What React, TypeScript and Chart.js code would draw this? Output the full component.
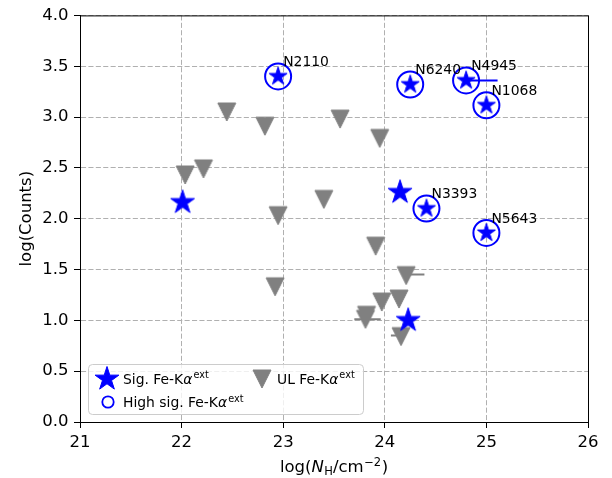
import { useEffect, useRef } from 'react';
import { Chart, registerables } from 'chart.js';

Chart.register(...registerables);

const FONT = 'DejaVu Sans';
const BLUE = '#0000ff';
const GREY = '#808080';

// Significant extended Fe-Kα detections (plain stars)
const sigNH = [22.01, 24.15, 24.23];
const sigCounts = [2.16, 2.26, 1.0];

// Highly significant detections (star inside a ring), labelled by galaxy
const highNames = ['N2110', 'N6240', 'N4945', 'N1068', 'N3393', 'N5643'];
const highNH = [22.95, 24.25, 24.8, 25.0, 24.41, 25.0];
const highCounts = [3.4, 3.32, 3.36, 3.115, 2.1, 1.86];

// Upper limits on extended Fe-Kα
const ulNH = [22.445, 22.82, 23.56, 23.95, 22.035, 22.215, 23.4, 22.95, 23.91, 24.21, 22.92, 23.97, 24.14, 23.82, 23.81, 24.16];
const ulCounts = [3.05, 2.91, 2.98, 2.79, 2.43, 2.49, 2.19, 2.03, 1.73, 1.44, 1.33, 1.18, 1.21, 1.05, 1.01, 0.84];

// N_H ranges drawn as horizontal bars
const ulRangeLo = [24.21, 23.7, 24.06];
const ulRangeHi = [24.39, 23.96, 24.16];
const ulRangeCounts = [1.45, 1.01, 0.85];
const n4945RangeLo = 24.8;
const n4945RangeHi = 25.11;
const n4945RangeCounts = 3.36;

// Axis ticks
const xTickValues = [21, 22, 23, 24, 25, 26];
const xTickLabels = ['21', '22', '23', '24', '25', '26'];
const yTickValues = [0, 0.5, 1, 1.5, 2, 2.5, 3, 3.5, 4];
const yTickLabels = ['0.0', '0.5', '1.0', '1.5', '2.0', '2.5', '3.0', '3.5', '4.0'];

type Run = { text: string; size: number; italic?: boolean; rise?: number; gap?: number };

const fontOf = (r: Run) => `${r.italic ? 'italic ' : ''}${r.size}px "${FONT}"`;

function richWidth(ctx: CanvasRenderingContext2D, runs: Run[]) {
  let w = 0;
  for (const r of runs) {
    ctx.font = fontOf(r);
    w += (r.gap || 0) + ctx.measureText(r.text).width;
  }
  return w;
}

function drawRich(ctx: CanvasRenderingContext2D, runs: Run[], x: number, y: number) {
  ctx.textAlign = 'left';
  ctx.textBaseline = 'alphabetic';
  for (const r of runs) {
    x += r.gap || 0;
    ctx.font = fontOf(r);
    ctx.fillText(r.text, x, y - (r.rise || 0));
    x += ctx.measureText(r.text).width;
  }
}

function starPath(ctx: CanvasRenderingContext2D, cx: number, cy: number, R: number) {
  const r = R * 0.381966;
  ctx.beginPath();
  for (let i = 0; i < 10; i++) {
    const a = -Math.PI / 2 + (i * Math.PI) / 5;
    const rad = i % 2 === 0 ? R : r;
    const px = cx + rad * Math.cos(a);
    const py = cy + rad * Math.sin(a);
    if (i === 0) ctx.moveTo(px, py);
    else ctx.lineTo(px, py);
  }
  ctx.closePath();
}

function markerCanvas(size: number, draw: (ctx: CanvasRenderingContext2D, c: number) => void) {
  const cv = document.createElement('canvas');
  cv.width = size;
  cv.height = size;
  const ctx = cv.getContext('2d')!;
  draw(ctx, size / 2);
  return cv;
}

function makeStar(size: number, R: number) {
  return markerCanvas(size, (ctx, c) => {
    starPath(ctx, c, c, R);
    ctx.fillStyle = BLUE;
    ctx.fill();
    ctx.strokeStyle = BLUE;
    ctx.lineWidth = 1;
    ctx.lineJoin = 'round';
    ctx.stroke();
  });
}

function makeTriangleDown(size: number, h: number) {
  return markerCanvas(size, (ctx, c) => {
    ctx.beginPath();
    ctx.moveTo(c - h, c - h);
    ctx.lineTo(c + h, c - h);
    ctx.lineTo(c, c + h);
    ctx.closePath();
    ctx.fillStyle = GREY;
    ctx.fill();
    ctx.strokeStyle = GREY;
    ctx.lineWidth = 1;
    ctx.stroke();
  });
}

const sup = (t: string): Run => ({ text: t, size: 9.7, rise: 5.5, gap: 1 });

export default function App() {
  const ref = useRef<HTMLCanvasElement>(null);

  useEffect(() => {
    const canvas = ref.current!;
    const bigStar = makeStar(30, 12.5);
    const smallStar = makeStar(24, 9.5);
    const triDown = makeTriangleDown(22, 9);

    const rangeSets = ulRangeCounts.map((c, i) => ({
      data: [
        { x: ulRangeLo[i], y: c },
        { x: ulRangeHi[i], y: c },
      ],
      showLine: true,
      borderColor: GREY,
      borderWidth: 2,
      pointRadius: 0,
      order: 4,
    }));

    const overlay = {
      id: 'overlay',
      afterDatasetsDraw(chart: any) {
        const { ctx, chartArea: a, scales } = chart;
        const xs = scales.x;
        const ys = scales.y;

        // source labels
        ctx.save();
        ctx.fillStyle = '#000';
        ctx.font = `13.9px "${FONT}"`;
        ctx.textAlign = 'left';
        ctx.textBaseline = 'alphabetic';
        highNames.forEach((name, i) => {
          ctx.fillText(name, xs.getPixelForValue(highNH[i] + 0.05), ys.getPixelForValue(highCounts[i] + 0.1));
        });
        ctx.restore();

        // axes frame
        ctx.save();
        ctx.strokeStyle = '#000';
        ctx.lineWidth = 1;
        ctx.strokeRect(a.left + 0.5, a.top + 0.5, a.right - a.left, a.bottom - a.top);
        ctx.restore();

        // legend
        ctx.save();
        const lx = 88.5, ly = 364.5, lw = 275, lh = 50;
        ctx.beginPath();
        ctx.roundRect(lx, ly, lw, lh, 4);
        ctx.fillStyle = 'rgba(255,255,255,0.8)';
        ctx.fill();
        ctx.strokeStyle = '#cccccc';
        ctx.lineWidth = 1;
        ctx.stroke();

        ctx.drawImage(bigStar, 107 - 15, 379 - 15);
        ctx.drawImage(triDown, 262 - 11, 379 - 11);
        ctx.beginPath();
        ctx.arc(108, 402, 5.7, 0, Math.PI * 2);
        ctx.strokeStyle = BLUE;
        ctx.lineWidth = 1.8;
        ctx.stroke();

        ctx.fillStyle = '#000';
        drawRich(ctx, [{ text: 'Sig. Fe-K', size: 13.9 }, { text: 'α', size: 13.9, italic: true }, sup('ext')], 123, 383.5);
        drawRich(ctx, [{ text: 'UL Fe-K', size: 13.9 }, { text: 'α', size: 13.9, italic: true }, sup('ext')], 277, 383.5);
        drawRich(ctx, [{ text: 'High sig. Fe-K', size: 13.9 }, { text: 'α', size: 13.9, italic: true }, sup('ext')], 123, 407);
        ctx.restore();

        // axis titles
        ctx.save();
        ctx.fillStyle = '#000';
        const xt: Run[] = [
          { text: 'log(', size: 16.5 },
          { text: 'N', size: 16.5, italic: true },
          { text: 'H', size: 11.5, rise: -2.5, gap: 0.5 },
          { text: '/cm', size: 16.5 },
          { text: '\u22122', size: 11.5, rise: 6.5, gap: 0.5 },
          { text: ')', size: 16.5, gap: 0.5 },
        ];
        const w = richWidth(ctx, xt);
        drawRich(ctx, xt, (a.left + a.right) / 2 - w / 2, 472);

        ctx.translate(31, (a.top + a.bottom) / 2);
        ctx.rotate(-Math.PI / 2);
        ctx.font = `16.5px "${FONT}"`;
        ctx.textAlign = 'center';
        ctx.textBaseline = 'alphabetic';
        ctx.fillText('log(Counts)', 0, 0);
        ctx.restore();
      },
    };

    const chart = new Chart(canvas, {
      type: 'scatter',
      data: {
        datasets: [
          {
            data: highNH.map((x, i) => ({ x, y: highCounts[i] })),
            pointStyle: smallStar,
            pointRadius: 10,
            order: 0,
          },
          {
            data: sigNH.map((x, i) => ({ x, y: sigCounts[i] })),
            pointStyle: bigStar,
            pointRadius: 12,
            order: 1,
          },
          {
            data: highNH.map((x, i) => ({ x, y: highCounts[i] })),
            pointStyle: 'circle',
            pointRadius: 13,
            borderColor: BLUE,
            borderWidth: 2,
            backgroundColor: 'rgba(0,0,0,0)',
            order: 2,
          },
          {
            data: [
              { x: n4945RangeLo, y: n4945RangeCounts },
              { x: n4945RangeHi, y: n4945RangeCounts },
            ],
            showLine: true,
            borderColor: BLUE,
            borderWidth: 2,
            pointRadius: 0,
            order: 3,
          },
          ...rangeSets,
          {
            data: ulNH.map((x, i) => ({ x, y: ulCounts[i] })),
            pointStyle: triDown,
            pointRadius: 9,
            order: 5,
          },
        ] as any,
      },
      options: {
        animation: false,
        responsive: false,
        events: [],
        layout: { padding: { top: 12, right: 24, left: 0, bottom: 0 } },
        plugins: { legend: { display: false }, tooltip: { enabled: false } },
        scales: {
          x: {
            type: 'linear',
            min: 21,
            max: 26,
            afterBuildTicks: (axis: any) => {
              axis.ticks = xTickValues.map((value) => ({ value }));
            },
            afterFit: (axis: any) => {
              axis.height = 56;
            },
            ticks: {
              callback: (_v: any, i: number) => xTickLabels[i],
              font: { family: FONT, size: 16.5 },
              color: '#000',
              padding: 5,
              maxRotation: 0,
            },
            grid: { color: '#b0b0b0', lineWidth: 1, tickLength: 6, tickColor: '#000', tickWidth: 1 },
            border: { color: '#000', width: 1, dash: [5.1, 2.3] },
          },
          y: {
            type: 'linear',
            min: 0,
            max: 4,
            afterBuildTicks: (axis: any) => {
              axis.ticks = yTickValues.map((value) => ({ value }));
            },
            afterFit: (axis: any) => {
              axis.width = 80;
            },
            ticks: {
              callback: (_v: any, i: number) => yTickLabels[i],
              font: { family: FONT, size: 16.5 },
              color: '#000',
              padding: 5.5,
            },
            grid: { color: '#b0b0b0', lineWidth: 1, tickLength: 6, tickColor: '#000', tickWidth: 1 },
            border: { color: '#000', width: 1, dash: [5.1, 2.3] },
          },
        },
      },
      plugins: [overlay],
    });

    return () => chart.destroy();
  }, []);

  return (
    <div style={{ position: 'absolute', left: 0, top: 0, width: 612, height: 478, background: '#fff' }}>
      <canvas ref={ref} width={612} height={478} style={{ display: 'block' }} />
    </div>
  );
}
